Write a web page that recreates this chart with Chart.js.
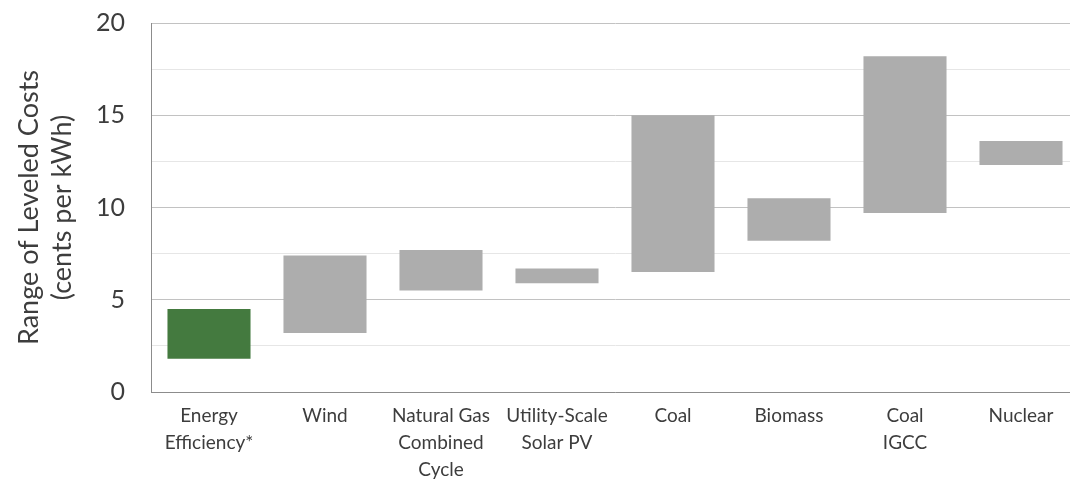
<!DOCTYPE html>
<html>
<head>
<meta charset="utf-8">
<script src="https://cdn.jsdelivr.net/npm/chart.js@4"></script>
<style>
  html, body { margin: 0; padding: 0; background: #fff; overflow: hidden; }
  #costChart { display: block; }
</style>
</head>
<body>
<canvas id="costChart" width="1080" height="485"></canvas>
<script>
const categories = [
  ["Energy", "Efficiency*"],
  "Wind",
  ["Natural Gas", "Combined", "Cycle"],
  ["Utility-Scale", "Solar PV"],
  "Coal",
  "Biomass",
  ["Coal", "IGCC"],
  "Nuclear",
];
const lowCosts = [1.8, 3.2, 5.5, 5.9, 6.5, 8.2, 9.7, 12.3];
const highCosts = [4.5, 7.4, 7.7, 6.7, 15.0, 10.5, 18.2, 13.6];
const yTicks = [0, 5, 10, 15, 20];

const textColor = "#3d3d3d";
const fontFamily = "Lato, 'Open Sans', sans-serif";

const ranges = lowCosts.map((low, i) => [low, highCosts[i]]);
const barColors = categories.map((_, i) => (i === 0 ? "#447a3f" : "#adadad"));

new Chart(document.querySelector("#costChart"), {
  type: "bar",
  data: {
    labels: categories,
    datasets: [{
      label: "Range of Leveled Costs",
      data: ranges,
      backgroundColor: barColors,
      borderWidth: 0,
      categoryPercentage: 1,
      barPercentage: 0.716,
    }],
  },
  options: {
    responsive: false,
    animation: false,
    layout: { padding: { top: 23, right: 1, bottom: 0, left: 0 } },
    plugins: { legend: { display: false }, tooltip: { enabled: false } },
    scales: {
      x: {
        grid: { display: false, drawTicks: false },
        border: { display: true, color: "#8c8c8c", width: 1 },
        ticks: {
          color: textColor,
          font: { family: fontFamily, size: 19, lineHeight: 1.42 },
          padding: 10,
          maxRotation: 0,
          autoSkip: false,
        },
        afterFit: (scale) => { scale.height = 93; },
      },
      y: {
        min: 0,
        max: 20,
        grid: {
          drawTicks: false,
          color: (ctx) => (ctx.tick && ctx.tick.value % 5 === 0 ? "#c2c2c2" : "#e6e6e6"),
          lineWidth: 1,
        },
        border: { display: true, color: "#8c8c8c", width: 1 },
        ticks: {
          stepSize: 2.5,
          color: textColor,
          font: { family: fontFamily, size: 25 },
          padding: 26,
          callback: (value) => (yTicks.includes(value) ? String(value) : ""),
        },
        title: {
          display: true,
          text: ["Range of Leveled Costs", "(cents per kWh)"],
          color: textColor,
          font: { family: fontFamily, size: 27, lineHeight: 1.22 },
          padding: { top: 13, bottom: 0 },
        },
        afterFit: (scale) => {
          // fixed gutter; tick padding should not push the plot down
          scale.width = 151;
          scale.paddingTop = 0;
          scale.paddingBottom = 0;
        },
      },
    },
  },
});
</script>
</body>
</html>
